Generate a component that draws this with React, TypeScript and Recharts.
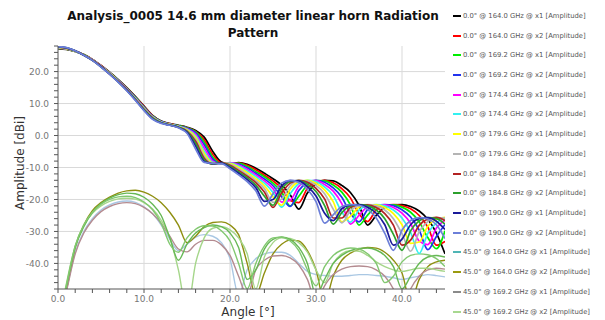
import { LineChart, Line, XAxis, YAxis, ReferenceLine } from 'recharts';

// angle samples [deg]
const angles = [
  0, 1, 2, 3, 4, 5, 6, 7, 8, 9, 10, 11, 12, 13, 14, 15, 16, 17, 18, 19, 20, 21, 22,
  23, 24, 25, 26, 27, 28, 29, 30, 31, 32, 33, 34, 35, 36, 37, 38, 39, 40, 41, 42, 43, 44, 45,
];

// 0.0 deg cut, amplitude [dBi]
const cut0_164_x1 = [27.2, 26.9, 26.3, 25.3, 23.8, 21.9, 19.8, 17.5, 15.0, 12.2, 9.2, 6.3, 4.5, 3.7, 3.2, 2.6, 1.6, -0.5, -5.0, -8.3, -8.9, -8.5, -9.0, -10.2, -11.8, -13.5, -15.5, -18.5, -23.0, -18.0, -15.0, -14.0, -14.2, -15.6, -17.8, -21.8, -28.0, -25.0, -22.4, -21.7, -21.6, -22.2, -23.6, -26.2, -30.5, -37.0];
const cut0_164_x2 = [27.3, 27.0, 26.3, 25.3, 23.8, 21.9, 19.7, 17.4, 14.9, 12.1, 9.1, 6.2, 4.4, 3.7, 3.1, 2.5, 1.3, -1.3, -5.9, -8.6, -8.8, -8.6, -9.3, -10.7, -12.4, -14.2, -16.5, -20.3, -21.0, -16.5, -14.5, -14.0, -14.8, -16.6, -19.5, -24.5, -26.9, -23.2, -21.9, -21.6, -21.9, -22.9, -25.0, -28.6, -34.3, -33.1];
const cut0_169_x1 = [27.3, 27.0, 26.3, 25.3, 23.7, 21.8, 19.7, 17.4, 14.8, 12.0, 8.9, 6.1, 4.4, 3.6, 3.1, 2.4, 1.1, -2.1, -6.8, -8.8, -8.7, -8.7, -9.7, -11.3, -12.9, -14.9, -17.7, -22.0, -19.0, -15.4, -14.1, -14.2, -15.5, -17.7, -21.7, -28.0, -24.9, -22.3, -21.7, -21.7, -22.4, -24.0, -27.0, -31.9, -35.4, -29.8];
const cut0_169_x2 = [27.4, 27.1, 26.4, 25.2, 23.7, 21.8, 19.6, 17.3, 14.7, 11.9, 8.8, 6.0, 4.3, 3.6, 3.0, 2.3, 0.8, -2.9, -7.4, -8.9, -8.6, -8.9, -10.1, -11.8, -13.6, -15.7, -19.1, -22.2, -17.2, -14.7, -14.0, -14.6, -16.4, -19.3, -24.3, -27.0, -23.2, -21.9, -21.6, -21.9, -23.2, -25.5, -29.6, -35.7, -31.6, -27.8];
const cut0_174_x1 = [27.4, 27.1, 26.4, 25.2, 23.7, 21.7, 19.6, 17.2, 14.6, 11.7, 8.7, 5.9, 4.3, 3.5, 2.9, 2.1, 0.4, -3.9, -8.0, -8.9, -8.5, -9.2, -10.6, -12.3, -14.2, -16.6, -20.8, -20.2, -15.9, -14.3, -14.1, -15.3, -17.4, -21.3, -27.7, -25.0, -22.3, -21.7, -21.7, -22.5, -24.3, -27.5, -33.0, -34.1, -28.9, -26.5];
const cut0_174_x2 = [27.5, 27.2, 26.4, 25.2, 23.7, 21.7, 19.5, 17.1, 14.5, 11.6, 8.6, 5.8, 4.2, 3.5, 2.9, 2.0, -0.1, -4.9, -8.4, -8.8, -8.6, -9.5, -11.1, -12.9, -14.9, -17.8, -22.4, -18.2, -15.0, -14.0, -14.4, -16.1, -18.8, -23.9, -27.1, -23.3, -21.9, -21.6, -22.0, -23.3, -25.8, -30.3, -36.9, -30.6, -27.3, -25.9];
const cut0_179_x1 = [27.6, 27.2, 26.4, 25.2, 23.6, 21.6, 19.5, 17.1, 14.4, 11.5, 8.4, 5.7, 4.1, 3.4, 2.8, 1.8, -0.5, -5.6, -8.6, -8.7, -8.8, -9.9, -11.6, -13.5, -15.7, -19.2, -21.8, -16.8, -14.5, -14.0, -14.9, -17.0, -20.7, -27.0, -25.2, -22.4, -21.7, -21.7, -22.5, -24.4, -27.9, -33.7, -33.3, -28.4, -26.2, -25.6];
const cut0_179_x2 = [27.6, 27.3, 26.4, 25.2, 23.6, 21.6, 19.4, 17.0, 14.3, 11.4, 8.3, 5.6, 4.1, 3.4, 2.7, 1.6, -1.1, -6.4, -8.8, -8.6, -9.0, -10.4, -12.2, -14.1, -16.6, -20.9, -19.9, -15.7, -14.1, -14.2, -15.6, -18.2, -23.0, -27.3, -23.5, -21.9, -21.6, -22.0, -23.3, -26.0, -30.7, -36.2, -30.1, -26.9, -25.7, -25.8];
const cut0_184_x1 = [27.7, 27.3, 26.5, 25.2, 23.6, 21.6, 19.3, 16.9, 14.3, 11.3, 8.2, 5.5, 4.0, 3.3, 2.6, 1.4, -1.8, -7.1, -8.9, -8.5, -9.3, -10.9, -12.7, -14.7, -17.7, -22.5, -18.0, -14.9, -14.0, -14.6, -16.5, -19.8, -25.8, -25.8, -22.5, -21.7, -21.7, -22.5, -24.4, -28.0, -34.3, -32.7, -28.1, -26.1, -25.6, -26.6];
const cut0_184_x2 = [27.7, 27.4, 26.5, 25.1, 23.5, 21.5, 19.3, 16.8, 14.2, 11.2, 8.1, 5.4, 4.0, 3.3, 2.6, 1.2, -2.5, -7.6, -8.9, -8.6, -9.6, -11.4, -13.2, -15.5, -19.0, -21.8, -16.7, -14.4, -14.1, -15.2, -17.5, -21.9, -27.7, -24.1, -22.0, -21.6, -21.9, -23.3, -26.0, -30.9, -35.9, -29.8, -26.7, -25.7, -26.0, -27.7];
const cut0_190_x1 = [27.8, 27.4, 26.5, 25.1, 23.5, 21.5, 19.2, 16.8, 14.1, 11.1, 7.9, 5.2, 3.9, 3.2, 2.5, 1.0, -3.3, -8.1, -8.8, -8.6, -10.0, -11.8, -13.8, -16.3, -20.6, -20.0, -15.8, -14.1, -14.2, -16.0, -18.9, -24.3, -26.6, -22.9, -21.7, -21.6, -22.4, -24.3, -27.9, -34.3, -32.4, -27.9, -26.0, -25.7, -26.8, -29.4];
const cut0_190_x2 = [27.8, 27.5, 26.5, 25.1, 23.5, 21.4, 19.2, 16.7, 14.0, 11.0, 7.8, 5.1, 3.8, 3.2, 2.4, 0.7, -4.2, -8.4, -8.7, -8.8, -10.4, -12.3, -14.4, -17.3, -22.1, -18.2, -14.9, -14.0, -14.7, -16.8, -20.7, -27.4, -24.8, -22.2, -21.6, -21.8, -23.1, -25.8, -30.6, -35.9, -29.6, -26.6, -25.7, -26.1, -27.9, -32.2];

// 45.0 deg cut, amplitude [dBi]
const cut45_164_x1 = [-60, -48, -36.5, -30, -26, -23.3, -21.7, -20.8, -20.5, -20.9, -22.3, -24.5, -28, -32.5, -36, -34, -31.8, -31, -31.5, -33.5, -38.5, -50, -42, -38.5, -37, -36.5, -36.5, -37.5, -40, -42.5, -43.5, -43.8, -44, -44, -43.8, -43.5, -43.5, -43.8, -44, -44.5, -45, -44.5, -44, -43.5, -43.8, -44.2];
const cut45_164_x2 = [-60, -48, -35, -28, -23.5, -21, -19.3, -18, -17.3, -17.1, -17.7, -19, -21, -24, -28, -33.5, -31.5, -28.5, -27.2, -27, -28, -31, -40, -50, -43, -37, -34, -32.7, -33, -36, -42, -52, -44, -39, -36.8, -35.6, -35, -35.2, -36.5, -39, -43, -52, -45, -41, -39.5, -39];
const cut45_169_x1 = [-60, -48.5, -37, -30.5, -26.5, -23.8, -22.2, -21.3, -21, -21.3, -22.5, -24.5, -27.5, -31.5, -35.5, -36.4, -34, -32.8, -32.8, -34.2, -37.5, -44, -50, -42, -39, -37.7, -37.5, -38.3, -40.5, -45, -52, -47, -43.5, -41.8, -41, -40.8, -41, -42, -44, -48, -55, -48, -44, -42, -41.5, -41.8];
const cut45_169_x2 = [-60, -46, -34.5, -28, -24.3, -22, -20.6, -19.8, -19.6, -19.9, -21, -23, -26.5, -32, -42, -55, -40, -32, -29, -28.5, -29.5, -32, -37, -48, -38, -33.5, -32, -32.2, -33.5, -36.5, -42, -46, -40, -37, -36, -36.2, -37.5, -39.5, -41, -42, -42.5, -42, -41.5, -41.5, -42, -42.5];
const cut45_174_x1 = [-60, -47, -35, -28.5, -24, -21.3, -19.6, -18.5, -18, -18.2, -19.3, -21.5, -25, -32, -39, -34, -30.5, -28.8, -28, -28.5, -30.5, -35, -45, -42, -35.5, -32.5, -31.7, -32.5, -35, -40, -50, -45, -40, -37.5, -36, -35.3, -35.2, -35.8, -37.5, -41, -48, -44, -40, -38, -37.5, -38];
const cut45_174_x2 = [-60, -46.5, -34.5, -28, -24, -21.5, -20, -19.2, -19, -19.4, -20.8, -23.2, -27.5, -34, -36.5, -32, -29.3, -28.2, -28.3, -29.8, -33, -40, -48, -40, -34.5, -32, -31.8, -33, -36, -42, -47, -41, -37.5, -35.8, -35.2, -35.5, -37, -40, -46, -44, -39.5, -37.5, -37, -37.3, -38.5, -41];

const xTicks = [0, 2, 4, 6, 8, 10, 12, 14, 16, 18, 20, 22, 24, 26, 28, 30, 32, 34, 36, 38, 40, 42, 44];
const yTicks = [-48, -46, -44, -42, -40, -38, -36, -34, -32, -30, -28, -26, -24, -22, -20, -18, -16, -14, -12, -10, -8, -6, -4, -2, 0, 2, 4, 6, 8, 10, 12, 14, 16, 18, 20, 22, 24, 26, 28];
const gridX = [10, 20, 30, 40];
const gridY = [-40, -30, -20, -10, 0, 10, 20];

const upperSeries = [
  { key: 'u0', name: '0.0° @ 164.0 GHz @ x1 [Amplitude]', color: '#000000', values: cut0_164_x1 },
  { key: 'u1', name: '0.0° @ 164.0 GHz @ x2 [Amplitude]', color: '#ff0000', values: cut0_164_x2 },
  { key: 'u2', name: '0.0° @ 169.2 GHz @ x1 [Amplitude]', color: '#00ee00', values: cut0_169_x1 },
  { key: 'u3', name: '0.0° @ 169.2 GHz @ x2 [Amplitude]', color: '#2233ee', values: cut0_169_x2 },
  { key: 'u4', name: '0.0° @ 174.4 GHz @ x1 [Amplitude]', color: '#ff00ff', values: cut0_174_x1 },
  { key: 'u5', name: '0.0° @ 174.4 GHz @ x2 [Amplitude]', color: '#33f0f0', values: cut0_174_x2 },
  { key: 'u6', name: '0.0° @ 179.6 GHz @ x1 [Amplitude]', color: '#ffff00', values: cut0_179_x1 },
  { key: 'u7', name: '0.0° @ 179.6 GHz @ x2 [Amplitude]', color: '#b4b4b4', values: cut0_179_x2 },
  { key: 'u8', name: '0.0° @ 184.8 GHz @ x1 [Amplitude]', color: '#b22222', values: cut0_184_x1 },
  { key: 'u9', name: '0.0° @ 184.8 GHz @ x2 [Amplitude]', color: '#2ca02c', values: cut0_184_x2 },
  { key: 'u10', name: '0.0° @ 190.0 GHz @ x1 [Amplitude]', color: '#1a1a99', values: cut0_190_x1 },
  { key: 'u11', name: '0.0° @ 190.0 GHz @ x2 [Amplitude]', color: '#6c7fd8', values: cut0_190_x2 },
];

const lowerSeries = [
  { key: 'l0', color: '#a9c7e3', values: cut45_164_x1 },
  { key: 'l1', color: '#8f8f10', values: cut45_164_x2 },
  { key: 'l2', color: '#b48b90', values: cut45_169_x1 },
  { key: 'l3', color: '#a5d68a', values: cut45_169_x2 },
  { key: 'l4', color: '#66b855', values: cut45_174_x1 },
  { key: 'l5', color: '#82c870', values: cut45_174_x2 },
];

const legendItems = [
  ...upperSeries.map((s) => ({ name: s.name, color: s.color })),
  { name: '45.0° @ 164.0 GHz @ x1 [Amplitude]', color: '#4fb5b5' },
  { name: '45.0° @ 164.0 GHz @ x2 [Amplitude]', color: '#9a9a10' },
  { name: '45.0° @ 169.2 GHz @ x1 [Amplitude]', color: '#8a8a8a' },
  { name: '45.0° @ 169.2 GHz @ x2 [Amplitude]', color: '#a8d890' },
];

const data = angles.map((a, k) => {
  const row: Record<string, number> = { angle: a };
  upperSeries.forEach((s) => (row[s.key] = s.values[k]));
  lowerSeries.forEach((s) => (row[s.key] = s.values[k]));
  return row;
});

const font = 'DejaVu Sans, Verdana, sans-serif';

export default function App() {
  return (
    <div style={{ position: 'absolute', left: 0, top: 0, width: 605, height: 320, background: '#fff', fontFamily: font }}>
      <div
        style={{
          position: 'absolute', left: 0, top: 8, width: 506, textAlign: 'center',
          fontSize: 12, fontWeight: 'bold', lineHeight: '16.5px', color: '#111', whiteSpace: 'nowrap',
        }}
      >
        Analysis_0005 14.6 mm diameter linear horn Radiation
        <br />
        Pattern
      </div>

      <LineChart width={605} height={320} data={data} margin={{ top: 46, right: 160, bottom: 1, left: 0 }}>
        {gridX.map((v) => (
          <ReferenceLine key={'gx' + v} x={v} stroke="#d9d9d9" strokeWidth={1} />
        ))}
        {gridY.map((v) => (
          <ReferenceLine key={'gy' + v} y={v} stroke="#d9d9d9" strokeWidth={1} />
        ))}
        <XAxis
          dataKey="angle"
          type="number"
          domain={[0, 45]}
          ticks={xTicks}
          interval={0}
          height={30}
          allowDataOverflow
          stroke="#555"
          tickSize={4}
          tickMargin={3}
          tick={{ fontSize: 9, fill: '#777', fontFamily: font }}
          tickFormatter={(v: number) => (v % 10 === 0 ? v.toFixed(1) : '')}
        />
        <YAxis
          type="number"
          domain={[-48, 28]}
          ticks={yTicks}
          interval={0}
          width={58}
          allowDataOverflow
          stroke="#555"
          tickSize={4}
          tickMargin={5}
          tick={{ fontSize: 9, fill: '#777', fontFamily: font }}
          tickFormatter={(v: number) => (v % 10 === 0 ? v.toFixed(1) : '')}
        />
        {lowerSeries.map((s) => (
          <Line key={s.key} dataKey={s.key} type="monotone" stroke={s.color} strokeWidth={1.4} dot={false} isAnimationActive={false} />
        ))}
        {upperSeries.map((s) => (
          <Line key={s.key} dataKey={s.key} type="monotone" stroke={s.color} strokeWidth={1.7} dot={false} isAnimationActive={false} />
        ))}
      </LineChart>

      <div
        style={{
          position: 'absolute', left: 20, top: 163, transform: 'translate(-50%, -50%) rotate(-90deg)',
          fontSize: 12, color: '#333', whiteSpace: 'nowrap',
        }}
      >
        Amplitude [dBi]
      </div>
      <div
        style={{
          position: 'absolute', left: 248, top: 312, transform: 'translate(-50%, -50%)',
          fontSize: 12, lineHeight: '14px', color: '#333', whiteSpace: 'nowrap',
        }}
      >
        Angle [°]
      </div>

      <div style={{ position: 'absolute', left: 453, top: 6 }}>
        {legendItems.map((item) => (
          <div key={item.name} style={{ display: 'flex', alignItems: 'center', height: 19.73 }}>
            <div style={{ width: 8, height: 2, background: item.color, marginRight: 2 }} />
            <span style={{ fontSize: 6.8, color: '#555', whiteSpace: 'nowrap' }}>{item.name}</span>
          </div>
        ))}
      </div>
    </div>
  );
}
